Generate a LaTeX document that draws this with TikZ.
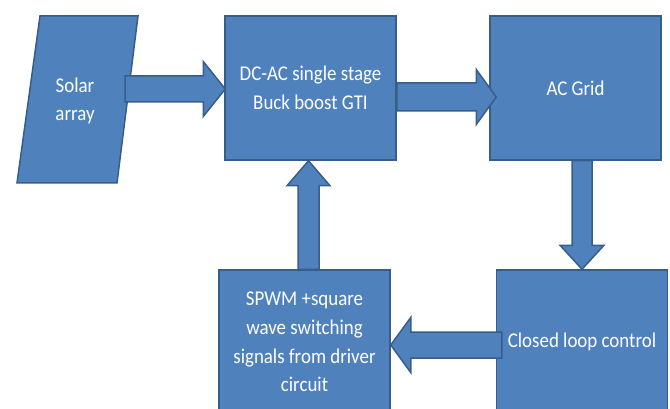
\documentclass[tikz,border=0pt]{standalone}
\usepackage{fontspec}
\setmainfont{Carlito}[FakeStretch=0.9]
\usetikzlibrary{calc}
\definecolor{blockfill}{HTML}{4F81BD}
\definecolor{blockline}{HTML}{385D8A}
\tikzset{
  blockbox/.style={draw=blockline, fill=blockfill, line width=1.5pt,
    minimum width=171pt, minimum height=144pt, inner sep=0pt,
    text=white, align=center,
    font=\fontsize{21pt}{28.7pt}\selectfont},
  label/.style={text=white, align=center, inner sep=0pt,
    font=\fontsize{21pt}{28.7pt}\selectfont},
  arrowbox/.style={draw=blockline, fill=blockfill, line width=1.5pt, line join=miter}
}
% block arrow: #1 start, #2 tip, #3 half shaft width, #4 half head width, #5 head length
\newcommand\blockarrow[5]{%
  \coordinate (ba-h) at ($(#2)!#5!(#1)$);
  \filldraw[arrowbox] ($(#1)!#3!90:(#2)$) -- ($(ba-h)!#3!90:(#2)$)
    -- ($(ba-h)!#4!90:(#2)$) -- (#2) -- ($(ba-h)!#4!-90:(#2)$)
    -- ($(ba-h)!#3!-90:(#2)$) -- ($(#1)!#3!-90:(#2)$) -- cycle;}
\begin{document}
\begin{tikzpicture}[x=1pt,y=-1pt]
\useasboundingbox (0,0) rectangle (670,409);
% solar array panel
\filldraw[arrowbox] (40,16) -- (138,16) -- (117,183) -- (17,183) -- cycle;
\node[label] (solar) at (75,101) {Solar\\array};
% blocks
\node[blockbox] (dc) at (310.5,88) {DC-AC single stage\\Buck boost GTI};
\node[blockbox] (grid) at (575.5,88) {AC Grid};
\node[blockbox] (spwm) at (304.5,342) {SPWM +square\\wave switching\\signals from driver\\circuit};
\node[blockbox] (cl) at (582,342) {Closed loop control};
% arrow end points
\coordinate (a1s) at ($(solar)+(50,-12)$);
\coordinate (a1t) at ($(dc.west)+(1,1)$);
\coordinate (a2s) at ($(dc.east)+(0,9)$);
\coordinate (a2t) at ($(grid.west)+(7,9)$);
\coordinate (a3s) at ($(grid.south)+(6.5,0)$);
\coordinate (a3t) at (cl.north);
\coordinate (a4s) at ($(cl.west)+(6,3)$);
\coordinate (a4t) at ($(spwm.east)+(0,3)$);
\coordinate (a5s) at ($(spwm.north)+(4,0)$);
\coordinate (a5t) at ($(dc.south)+(-2,0)$);
% connectors
\blockarrow{a1s}{a1t}{13pt}{27.5pt}{22pt}
\blockarrow{a2s}{a2t}{14pt}{27.5pt}{20pt}
\blockarrow{a3s}{a3t}{10pt}{22pt}{24pt}
\blockarrow{a4s}{a4t}{13pt}{27.5pt}{20pt}
\blockarrow{a5s}{a5t}{10.5pt}{21.5pt}{25pt}
\end{tikzpicture}
\end{document}
